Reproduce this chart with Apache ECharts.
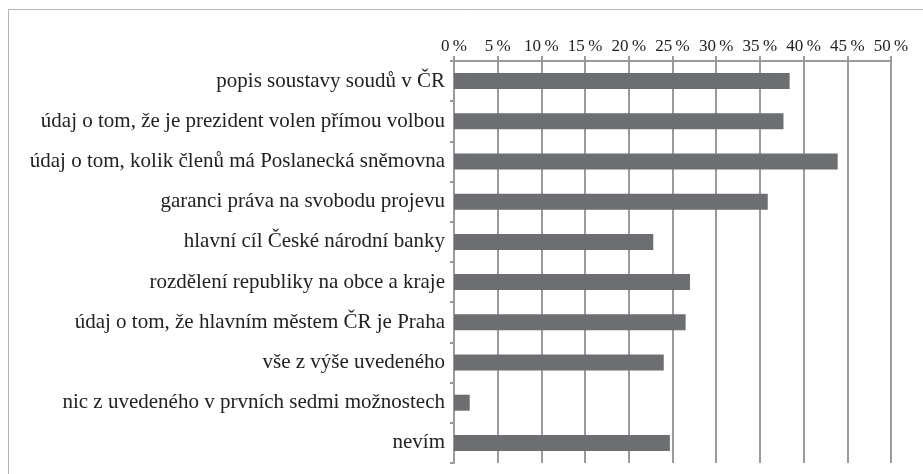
<!DOCTYPE html>
<html>
<head>
<meta charset="utf-8">
<script src="https://cdn.jsdelivr.net/npm/echarts@6/dist/echarts.min.js"></script>
<style>
  html, body { margin: 0; padding: 0; background: #fff; }
  #chart { width: 923px; height: 474px; }
</style>
</head>
<body>
<div id="chart"></div>
<script>
// odpovědi (shora dolů)
const categories = [
  'popis soustavy soudů v ČR',
  'údaj o tom, že je prezident volen přímou volbou',
  'údaj o tom, kolik členů má Poslanecká sněmovna',
  'garanci práva na svobodu projevu',
  'hlavní cíl České národní banky',
  'rozdělení republiky na obce a kraje',
  'údaj o tom, že hlavním městem ČR je Praha',
  'vše z výše uvedeného',
  'nic z uvedeného v prvních sedmi možnostech',
  'nevím'
];

// podíly v %
const values = [38.4, 37.7, 43.9, 35.9, 22.8, 27.0, 26.5, 24.0, 1.8, 24.7];

const tickMin = 0;
const tickMax = 50;
const tickStep = 5;

const chart = echarts.init(document.getElementById('chart'));

const option = {
  animation: false,
  backgroundColor: '#fff',
  textStyle: { fontFamily: 'serif' },
  graphic: [{
    type: 'rect',
    shape: { x: 8.5, y: 9.5, width: 1000, height: 1000 },
    style: { fill: 'none', stroke: '#b4b4b4', lineWidth: 1 },
    silent: true
  }],
  grid: { left: 454, top: 61, right: 32, bottom: 11 },
  xAxis: {
    type: 'value',
    position: 'top',
    min: tickMin,
    max: tickMax,
    interval: tickStep,
    axisLine: { show: true, lineStyle: { color: '#9a9a9a', width: 2 } },
    axisTick: { show: true, length: 5, lineStyle: { color: '#9a9a9a', width: 2 } },
    splitLine: { show: true, lineStyle: { color: '#9a9a9a', width: 2 } },
    axisLabel: {
      margin: 6,
      color: '#222',
      fontSize: 17,
      fontFamily: 'serif',
      formatter: v => v + '\u2009%'
    }
  },
  yAxis: {
    type: 'category',
    inverse: true,
    data: categories,
    axisLine: { show: true, lineStyle: { color: '#9a9a9a', width: 2 } },
    axisTick: { show: true, length: 4, lineStyle: { color: '#9a9a9a', width: 2 } },
    axisLabel: {
      margin: 9,
      color: '#222',
      fontSize: 21,
      fontFamily: 'serif'
    }
  },
  series: [{
    type: 'bar',
    data: values,
    barWidth: 16,
    itemStyle: { color: '#6d6e71' }
  }]
};

chart.setOption(option);
</script>
</body>
</html>
